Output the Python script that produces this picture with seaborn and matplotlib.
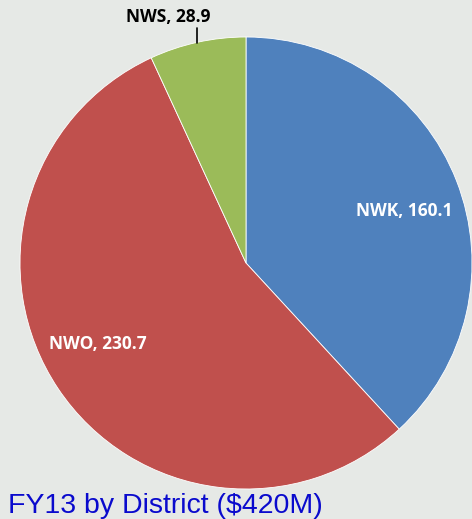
import numpy as np
import matplotlib
matplotlib.use('Agg')
import matplotlib.pyplot as plt
import seaborn as sns

districts = ['NWK', 'NWO', 'NWS']
funding = [160.1, 230.7, 28.9]
colors = sns.color_palette(['#4f81bd', '#c0504d', '#9bbb59'])
label_text_colors = ['white', 'white', 'black']
# label placement: radius and angle shift from wedge middle (deg)
label_radius = [0.735, 0.75, None]
label_shift = [-3.1, -5.0, 0.0]

sns.set_theme(style='white')
plt.rcParams['font.family'] = ['Liberation Sans', 'DejaVu Sans']

fig = plt.figure(figsize=(4.72, 5.19), dpi=100)
bg = '#e6e9e6'
fig.patch.set_facecolor(bg)

# pie centre at (246, 263) px, radius 226 px
ax = fig.add_axes([20 / 472, (519 - 489) / 519, 452 / 472, 452 / 519])
ax.set_facecolor(bg)
wedges, _ = ax.pie(funding, colors=colors, startangle=90, counterclock=False,
                   wedgeprops=dict(edgecolor='white', linewidth=0.6))
ax.set_xlim(-1, 1)
ax.set_ylim(-1, 1)
ax.set_aspect('equal')
ax.axis('off')

lab_font = dict(fontsize=12.5, fontweight='bold', family=['Open Sans', 'DejaVu Sans'],
                ha='center', va='center')
for w, name, val, tc, r, sh in zip(wedges, districts, funding, label_text_colors,
                                   label_radius, label_shift):
    mid = np.deg2rad((w.theta1 + w.theta2) / 2)
    txt = f'{name}, {val:.1f}'
    if r is not None:
        ang = mid + np.deg2rad(sh)
        ax.text(r * np.cos(ang), r * np.sin(ang), txt, color=tc, **lab_font)
    else:
        x0, y0 = np.cos(mid), np.sin(mid)
        ax.plot([x0, x0], [y0 - 0.005, 1.04], color='black', lw=1.2, clip_on=False)
        ax.text(-0.345, 1.09, txt, color=tc, **lab_font)

fig.text(8 / 472, 6 / 519, 'FY13 by District ($420M)', color='#0a0acd',
         fontsize=20.5, ha='left', va='baseline')

fig.savefig('out.png', dpi=100, facecolor=bg)
